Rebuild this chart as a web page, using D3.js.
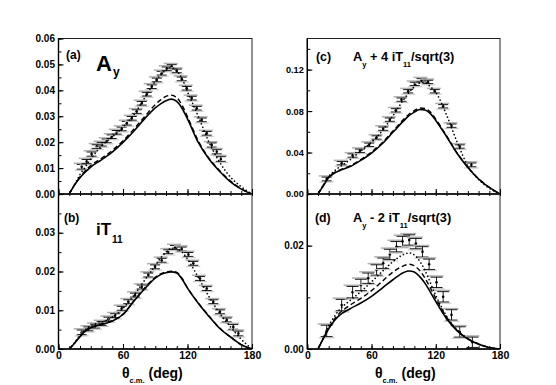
<!DOCTYPE html>
<html><head><meta charset="utf-8">
<script src="https://cdn.jsdelivr.net/npm/d3@7"></script>
<style>
html,body{margin:0;padding:0;background:#fff;}
text{font-family:"Liberation Sans",Arial,Helvetica,sans-serif;font-weight:bold;fill:#000;}
</style></head>
<body><svg id="c" width="556" height="385"></svg>
<script>
// ---- data ----
const thetaGrid = [10,15,20,25,30,40,50,60,70,80,90,95,100,105,110,115,120,130,140,150,160,170,180];

const aySolid  = [0,0.0035,0.0063,0.0085,0.0104,0.0132,0.0162,0.0199,0.0242,0.029,0.0332,0.0348,0.036,0.0366,0.0357,0.033,0.029,0.0199,0.0135,0.0087,0.0047,0.0019,0];
const ayDashed = [0,0.0036,0.0066,0.009,0.011,0.0138,0.0168,0.0205,0.025,0.0298,0.0345,0.0363,0.0377,0.0381,0.0372,0.0342,0.0298,0.0205,0.0138,0.009,0.005,0.002,0];
const ayDotted = [0,0.0037,0.0075,0.0105,0.0135,0.0185,0.022,0.0258,0.0305,0.037,0.0435,0.046,0.0478,0.0488,0.0475,0.0445,0.0395,0.03,0.02,0.0122,0.0065,0.0028,0];
const thetaA = [21.6,26.2,30.8,35.5,40.2,44.8,49.5,54.1,58.8,63.5,68.1,72.8,77.4,82.1,86.7,91.4,96,100.7,105.3,110,114.6,119.3,123.9,128.6,133.2,137.9,142.5,147.2,151];
const ayData = [0.0105,0.0125,0.0154,0.0183,0.0192,0.0205,0.0221,0.0238,0.0251,0.0273,0.0292,0.0318,0.035,0.0385,0.0414,0.044,0.0466,0.0483,0.0492,0.0475,0.0444,0.0408,0.037,0.0331,0.0286,0.0234,0.0189,0.0163,0.0135];
const ayErr  = [0.0009,0.0008,0.0008,0.0007,0.0007,0.0007,0.0007,0.0007,0.0007,0.0007,0.0007,0.0007,0.0007,0.0007,0.0007,0.0007,0.0007,0.0007,0.0007,0.0007,0.0007,0.0007,0.0007,0.0007,0.0007,0.0007,0.0008,0.0008,0.0009];

const iTSolid  = [0,0.0015,0.0032,0.0046,0.0055,0.0063,0.0072,0.0089,0.0123,0.0155,0.0183,0.0192,0.0197,0.0199,0.0196,0.018,0.0157,0.0118,0.0084,0.0053,0.0031,0.0011,0];
const iTDashed = [0,0.0015,0.0032,0.0046,0.0055,0.0064,0.0073,0.009,0.0124,0.0157,0.0185,0.0194,0.0199,0.0201,0.0198,0.0182,0.0158,0.0119,0.0085,0.0054,0.0031,0.0011,0];
const iTDotted = [0,0.0017,0.0036,0.005,0.006,0.0069,0.0082,0.0105,0.0138,0.0177,0.0215,0.0235,0.025,0.026,0.026,0.025,0.0232,0.0185,0.0135,0.0092,0.0057,0.0025,0];
const thetaB = [21.6,27.8,34,40.2,46.4,52.6,58.8,64.9,71.2,77.4,83.5,89.8,96,102.1,108.4,114.6,120.8,125.4,131.6,137.9,144,150.2,156.5,162.6,167.3];
const iTData = [0.0043,0.0052,0.0059,0.0066,0.0077,0.0086,0.0105,0.0122,0.0139,0.016,0.0191,0.0212,0.0229,0.0251,0.0262,0.0258,0.0244,0.0221,0.0182,0.0156,0.0122,0.0096,0.0075,0.0057,0.004];
const iTErr  = [0.0006,0.0005,0.0005,0.0005,0.0005,0.0005,0.0005,0.0005,0.0005,0.0005,0.0005,0.0005,0.0005,0.0005,0.0005,0.0005,0.0005,0.0005,0.0005,0.0005,0.0005,0.0005,0.0005,0.0006,0.0006];

const sumSolid  = [0,0.008,0.016,0.02,0.0225,0.0265,0.0325,0.0395,0.0485,0.0595,0.0705,0.0755,0.079,0.0815,0.081,0.0775,0.071,0.0555,0.039,0.0255,0.0145,0.0063,0];
const sumDashed = [0,0.0082,0.0163,0.0205,0.023,0.0272,0.0333,0.0405,0.0495,0.0607,0.072,0.077,0.0805,0.083,0.0825,0.079,0.0722,0.0562,0.0395,0.0258,0.0147,0.0064,0];
const sumDotted = [0,0.009,0.017,0.022,0.026,0.033,0.0415,0.05,0.061,0.0755,0.091,0.098,0.1035,0.107,0.1075,0.1035,0.098,0.0765,0.05,0.027,0.014,0.0055,0];
const thetaC = [18.1,32.1,42.3,49.2,57.8,64.7,70.9,77.1,82.7,88,94.2,100.4,106.7,112.9,119.1,126.9,134.7,142.4,153.3];
const sumData = [0.0145,0.0297,0.0371,0.0417,0.0475,0.0545,0.063,0.0717,0.0807,0.091,0.0991,0.1062,0.1097,0.1081,0.0991,0.0846,0.0659,0.0458,0.0281];
const sumErr  = [0.0018,0.0016,0.0016,0.0016,0.0016,0.0016,0.0016,0.0016,0.0016,0.0016,0.0016,0.0016,0.0016,0.0016,0.0016,0.0016,0.0016,0.0016,0.0018];

const diffSolid  = [0,0.002,0.0039,0.0054,0.0065,0.0078,0.0089,0.0102,0.0118,0.0134,0.0148,0.0151,0.0149,0.014,0.0127,0.011,0.0092,0.0059,0.0035,0.0019,0.0009,0.0003,0];
const diffDashed = [0,0.0021,0.0041,0.0057,0.0069,0.0085,0.0098,0.0113,0.0131,0.0149,0.0161,0.0164,0.0161,0.0152,0.0137,0.0118,0.0098,0.0062,0.0036,0.002,0.001,0.0003,0];
const diffDotted = [0,0.0022,0.0045,0.0062,0.0076,0.0094,0.0111,0.013,0.015,0.0169,0.0183,0.0186,0.0182,0.017,0.0152,0.0128,0.0104,0.0064,0.0037,0.002,0.001,0.0003,0];
const thetaD = [18.1,32.1,42.3,50.1,56.9,64.7,70.9,77.1,83.3,89,95.2,101.4,107.6,113.8,120.7,126.9,134.7,142.4,154.2];
const diffData = [0.0035,0.0085,0.011,0.0124,0.0137,0.0153,0.0166,0.0183,0.0198,0.0208,0.0211,0.0204,0.0188,0.0164,0.0129,0.0101,0.0066,0.0033,0.0013];
const diffErr  = [0.0011,0.0011,0.0011,0.0011,0.001,0.001,0.001,0.001,0.001,0.001,0.001,0.001,0.001,0.001,0.001,0.001,0.001,0.001,0.001];

const xTicksMajor = [0,60,120,180];
const xTickLabels = ["0","60","120","180"];

// ---- layout ----
const svg = d3.select("#c");
const panels = [
  {x0:58.5, x1:252, y0:38.5, y1:194, ymax:0.06, major:0.01, minor:0.005, fmt:".2f", labelMax:0.06, fs:"10px",
   solid:aySolid, dashed:ayDashed, dotted:ayDotted, th:thetaA, d:ayData, e:ayErr, xl:false, cap:10},
  {x0:58.5, x1:252, y0:194, y1:349, ymax:0.04, major:0.01, minor:0.005, fmt:".2f", labelMax:0.035, fs:"10px",
   solid:iTSolid, dashed:iTDashed, dotted:iTDotted, th:thetaB, d:iTData, e:iTErr, xl:true, cap:10},
  {x0:307.3, x1:500, y0:38.5, y1:194, ymax:0.15, major:0.04, minor:0.02, fmt:".2f", labelMax:0.13, fs:"9.2px",
   solid:sumSolid, dashed:sumDashed, dotted:sumDotted, th:thetaC, d:sumData, e:sumErr, xl:false, cap:10},
  {x0:307.3, x1:500, y0:194, y1:349, ymax:0.03, major:0.02, minor:0.01, fmt:".2f", labelMax:0.025, fs:"10px",
   solid:diffSolid, dashed:diffDashed, dotted:diffDotted, th:thetaD, d:diffData, e:diffErr, xl:true, cap:12}
];

panels.forEach(p => {
  const x = d3.scaleLinear().domain([0,180]).range([p.x0,p.x1]);
  const y = d3.scaleLinear().domain([0,p.ymax]).range([p.y1,p.y0]);
  const g = svg.append("g");
  const clipId = "clip"+Math.round(p.x0)+"_"+Math.round(p.y0);
  svg.append("clipPath").attr("id",clipId).append("rect")
     .attr("x",p.x0).attr("y",p.y0-1).attr("width",p.x1-p.x0).attr("height",p.y1-p.y0+1);

  // data points: gray bars, black error bars
  const pts = g.append("g");
  p.th.forEach((t,i) => {
    const cx = x(t), cy = y(p.d[i]), top = y(p.d[i]+p.e[i]), bot = y(p.d[i]-p.e[i]);
    pts.append("line").attr("x1",cx-p.cap/2-3).attr("x2",cx+p.cap/2+1).attr("y1",top-1.2).attr("y2",top-1.2)
      .attr("stroke","#b0b0b0").attr("stroke-width",1.5);
    pts.append("line").attr("x1",cx-p.cap/2-2).attr("x2",cx+p.cap/2+2).attr("y1",bot+1.2).attr("y2",bot+1.2)
      .attr("stroke","#c4c4c4").attr("stroke-width",1.1);
    pts.append("line").attr("x1",cx).attr("x2",cx).attr("y1",top).attr("y2",bot).attr("stroke","#000").attr("stroke-width",0.9);
    pts.append("line").attr("x1",cx-p.cap/2).attr("x2",cx+p.cap/2).attr("y1",top).attr("y2",top).attr("stroke","#000").attr("stroke-width",0.9);
    pts.append("line").attr("x1",cx-p.cap/2).attr("x2",cx+p.cap/2).attr("y1",bot).attr("y2",bot).attr("stroke","#000").attr("stroke-width",0.9);
    pts.append("circle").attr("cx",cx).attr("cy",cy).attr("r",1.3).attr("fill","#000");
  });

  // theory curves
  const line = d3.line().x((d,i)=>x(thetaGrid[i])).y(d=>y(d)).curve(d3.curveMonotoneX);
  const curves = g.append("g").attr("clip-path","url(#"+clipId+")");
  curves.append("path").attr("d",line(p.solid)).attr("fill","none").attr("stroke","#000").attr("stroke-width",1.6);
  curves.append("path").attr("d",line(p.dashed)).attr("fill","none").attr("stroke","#000").attr("stroke-width",1.4).attr("stroke-dasharray","5,3");
  curves.append("path").attr("d",line(p.dotted)).attr("fill","none").attr("stroke","#000").attr("stroke-width",1.6)
        .attr("stroke-dasharray","0.1,3.6").attr("stroke-linecap","round");

  // frame
  g.append("rect").attr("x",p.x0).attr("y",p.y0).attr("width",p.x1-p.x0).attr("height",p.y1-p.y0)
    .attr("fill","none").attr("stroke","#222").attr("stroke-width",1);
  g.append("line").attr("x1",p.x0).attr("x2",p.x0).attr("y1",p.y0).attr("y2",p.y1).attr("stroke","#000").attr("stroke-width",1.4);
  g.append("line").attr("x1",p.x0).attr("x2",p.x1).attr("y1",p.y1).attr("y2",p.y1).attr("stroke","#000").attr("stroke-width",1.4);

  // y axis
  const yMajor = d3.range(0, p.ymax+1e-9, p.major);
  const yMinor = d3.range(0, p.ymax+1e-9, p.minor);
  const ya = g.append("g").attr("transform",`translate(${p.x0},0)`)
     .call(d3.axisLeft(y).tickValues(yMinor).tickSize(-3).tickFormat(""));
  ya.select(".domain").remove();
  const yb = g.append("g").attr("transform",`translate(${p.x0},0)`)
     .call(d3.axisLeft(y).tickValues(yMajor).tickSize(-5).tickPadding(3.5)
       .tickFormat(v => v <= p.labelMax+1e-9 ? d3.format(p.fmt)(v) : ""));
  yb.select(".domain").remove();
  yb.selectAll("line").attr("stroke-width",1.1);
  yb.selectAll("text").attr("font-size", p.fs).attr("font-family",null);

  // x axis: ticks inward
  const xMinor = d3.range(0,181,10);
  const xa = g.append("g").attr("transform",`translate(0,${p.y1})`)
    .call(d3.axisBottom(x).tickValues(xMinor).tickSizeInner(-3).tickSizeOuter(0).tickFormat(""));
  xa.select(".domain").remove();
  const xb = g.append("g").attr("transform",`translate(0,${p.y1})`)
    .call(d3.axisBottom(x).tickValues(xTicksMajor).tickSizeInner(-5).tickSizeOuter(0).tickPadding(3)
      .tickFormat((v,i)=> p.xl ? xTickLabels[i] : ""));
  xb.select(".domain").remove();
  xb.selectAll("line").attr("stroke-width",1.1);
  xb.selectAll("text").attr("font-size","10.5px").attr("font-family",null);
  if (!p.xl) {
    const xc = g.append("g").attr("transform",`translate(0,${p.y1})`)
      .call(d3.axisBottom(x).tickValues(xMinor).tickSizeInner(2).tickSizeOuter(0).tickFormat(""));
    xc.select(".domain").remove();
  }
  svg.selectAll(".tick text").attr("fill","#000");
});

// ---- panel labels ----
function lab(xp, yp, s, size){ svg.append("text").attr("x",xp).attr("y",yp).attr("font-size",size).text(s); }
lab(66, 59, "(a)", "12px");
const ta = svg.append("text").attr("x",96).attr("y",71).attr("font-size","22px");
ta.append("tspan").text("A");
ta.append("tspan").attr("font-size","12px").attr("dy",5).attr("dx",1).text("y");

lab(64, 222, "(b)", "12px");
const tb = svg.append("text").attr("x",96).attr("y",235).attr("font-size","17px");
tb.append("tspan").text("iT");
tb.append("tspan").attr("font-size","10px").attr("dy",8).attr("dx",1).text("11");

lab(316, 61, "(c)", "12.3px");
const tc = svg.append("text").attr("x",353).attr("y",61).attr("font-size","12.8px");
tc.append("tspan").text("A");
tc.append("tspan").attr("font-size","7.5px").attr("dy",5.5).text("y");
tc.append("tspan").attr("dy",-5.5).text(" + 4 iT");
tc.append("tspan").attr("font-size","7.5px").attr("dy",6).text("11");
tc.append("tspan").attr("dy",-6).text("/sqrt(3)");

lab(315, 222, "(d)", "12.3px");
const td = svg.append("text").attr("x",353).attr("y",222).attr("font-size","12.8px");
td.append("tspan").text("A");
td.append("tspan").attr("font-size","7.5px").attr("dy",5.5).text("y");
td.append("tspan").attr("dy",-5.5).text(" - 2 iT");
td.append("tspan").attr("font-size","7.5px").attr("dy",6).text("11");
td.append("tspan").attr("dy",-6).text("/sqrt(3)");

// ---- axis titles ----
[122, 375].forEach(xp => {
  const t = svg.append("text").attr("x",xp).attr("y",377.5).attr("font-size","14px");
  t.append("tspan").text("θ");
  t.append("tspan").attr("font-size","7.5px").attr("dy",5.5).text("c.m.");
  t.append("tspan").attr("dy",-5.5).text(" (deg)");
});
</script></body></html>
